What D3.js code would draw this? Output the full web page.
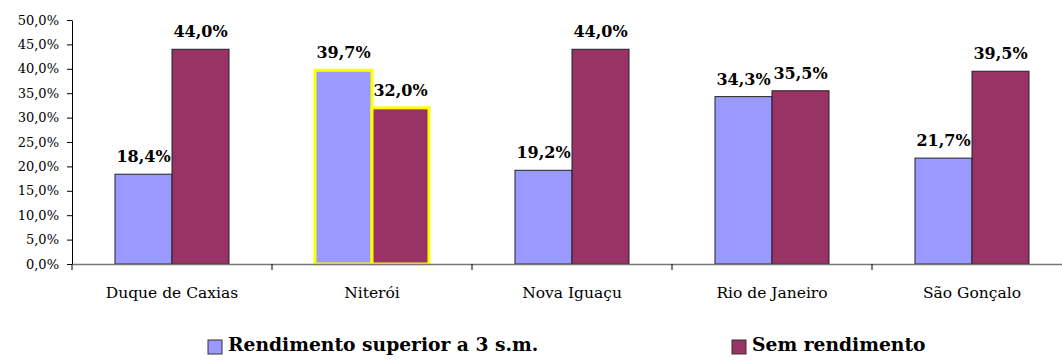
<!DOCTYPE html>
<html>
<head>
<meta charset="utf-8">
<script src="https://cdn.jsdelivr.net/npm/d3@7"></script>
<style>
  body { margin: 0; background: #fff; }
  svg { display: block; }
  svg text { font-family: "DejaVu Serif", serif !important; }
</style>
</head>
<body>
<svg id="chart" width="1062" height="360"></svg>
<script>
// Municipalities and share of households per income group
const categories = ["Duque de Caxias", "Niterói", "Nova Iguaçu", "Rio de Janeiro", "São Gonçalo"];
const seriesNames = ["Rendimento superior a 3 s.m.", "Sem rendimento"];
const rendimentoSuperior = [18.4, 39.7, 19.2, 34.3, 21.7];
const semRendimento = [44.0, 32.0, 44.0, 35.5, 39.5];
const yTicks = [0, 5, 10, 15, 20, 25, 30, 35, 40, 45, 50];
const highlighted = ["Niterói"];

const colors = ["#9999FF", "#993366"];
const fmt = v => v.toFixed(1).replace(".", ",") + "%";

const svg = d3.select("#chart");
const plotLeft = 72, plotTop = 20, plotBottom = 264;

const x = d3.scaleBand().domain(categories).range([plotLeft, plotLeft + 1000]).paddingInner(0).paddingOuter(0);
const x1 = d3.scaleBand().domain(seriesNames).range([43, 200 - 43]);
const y = d3.scaleLinear().domain([0, 50]).range([plotBottom, plotTop]);

const rows = categories.map((c, i) => ({
  cat: c,
  vals: [rendimentoSuperior[i], semRendimento[i]]
}));

// Y axis
const yAxis = svg.append("g")
  .attr("transform", `translate(${plotLeft},0)`)
  .call(d3.axisLeft(y).tickValues(yTicks).tickFormat(fmt).tickSize(5).tickSizeOuter(0));
yAxis.attr("font-family", null);
yAxis.select(".domain").attr("stroke", "#000");
yAxis.selectAll(".tick line").attr("stroke", "#000");
yAxis.selectAll(".tick text")
  .attr("x", -13)
  .attr("fill", "#000")
  .style("font-size", "13px");

// Bars
const groups = svg.append("g").selectAll("g")
  .data(rows)
  .join("g")
  .attr("transform", d => `translate(${x(d.cat)},0)`);

groups.selectAll("rect")
  .data(d => d.vals.map((v, j) => ({ v, j, cat: d.cat })))
  .join("rect")
  .attr("x", d => x1(seriesNames[d.j]))
  .attr("y", d => y(d.v))
  .attr("width", x1.bandwidth())
  .attr("height", d => y(0) - y(d.v))
  .attr("fill", d => colors[d.j])
  .attr("stroke", d => highlighted.includes(d.cat) ? "#FFFF00" : "#222")
  .attr("stroke-width", d => highlighted.includes(d.cat) ? 3 : 1);

// Value labels
groups.selectAll("text")
  .data(d => d.vals.map((v, j) => ({ v, j, cat: d.cat })))
  .join("text")
  .attr("x", d => x1(seriesNames[d.j]) + x1.bandwidth() / 2)
  .attr("y", d => y(d.v) - 12)
  .attr("text-anchor", "middle")
  .style("font-size", "16px")
  .style("font-weight", "bold")
  .attr("fill", "#000")
  .text(d => fmt(d.v));

// X axis
const xAxis = svg.append("g")
  .attr("transform", `translate(0,${plotBottom})`)
  .call(d3.axisBottom(x).tickSize(0).tickSizeOuter(0));
xAxis.attr("font-family", null);
xAxis.select(".domain").attr("stroke", "#777").attr("stroke-width", 1.5);
xAxis.selectAll(".tick text")
  .attr("y", 23)
  .attr("fill", "#000")
  .style("font-size", "15.5px");
// Category separator ticks
svg.append("g").selectAll("line")
  .data(categories)
  .join("line")
  .attr("x1", d => x(d)).attr("x2", d => x(d))
  .attr("y1", plotBottom).attr("y2", plotBottom + 6)
  .attr("stroke", "#000");

// Legend
const legendX = [208, 732];
const legend = svg.append("g").selectAll("g")
  .data(seriesNames)
  .join("g")
  .attr("transform", (d, i) => `translate(${legendX[i]},340)`);
legend.append("rect")
  .attr("width", 14).attr("height", 14)
  .attr("fill", (d, i) => colors[i])
  .attr("stroke", "#333").attr("stroke-width", 1);
legend.append("text")
  .attr("x", 20).attr("y", 11)
  .style("font-size", "18.7px")
  .style("font-weight", "bold")
  .attr("fill", "#000")
  .text(d => d);
</script>
</body>
</html>
